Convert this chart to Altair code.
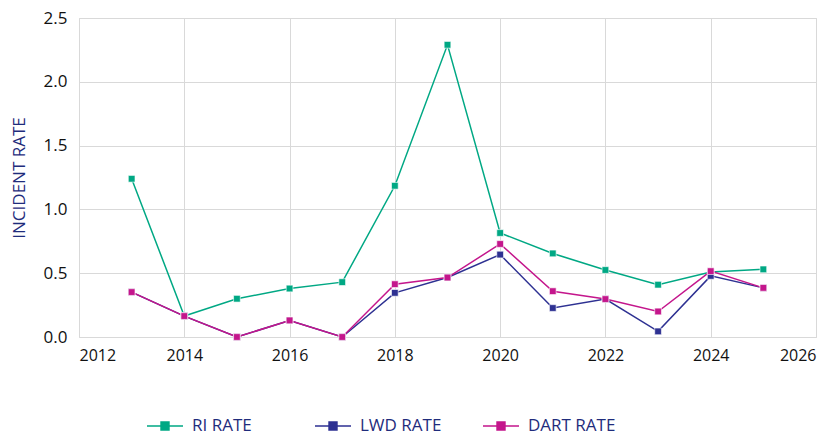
import altair as alt
import pandas as pd

years = [2013, 2014, 2015, 2016, 2017, 2018, 2019, 2020, 2021, 2022, 2023, 2024, 2025]
ri_rate = [1.24, 0.164, 0.30, 0.38, 0.43, 1.185, 2.29, 0.815, 0.655, 0.525, 0.41, 0.51, 0.53]
lwd_rate = [0.352, 0.164, 0.0, 0.13, 0.0, 0.346, 0.466, 0.646, 0.227, 0.297, 0.044, 0.479, 0.385]
dart_rate = [0.352, 0.164, 0.0, 0.13, 0.0, 0.414, 0.466, 0.729, 0.359, 0.297, 0.20, 0.516, 0.385]

series_names = ["RI RATE", "LWD RATE", "DART RATE"]
series_colors = ["#00A884", "#2E3192", "#C4168C"]

rows = []
for name, vals in zip(series_names, [ri_rate, lwd_rate, dart_rate]):
    for y, v in zip(years, vals):
        rows.append({"year": y, "rate": v, "series": name})
df = pd.DataFrame(rows)

FONT = "Open Sans"

x = alt.X("year:Q", scale=alt.Scale(domain=[2012, 2026], nice=False),
          axis=alt.Axis(values=list(range(2012, 2027, 2)), format="d", title=None,
                        grid=True, gridColor="#d9d9d9", ticks=False, domain=False,
                        labelFontSize=16, labelColor="#111111", labelPadding=10,
                        labelFont=FONT))
y = alt.Y("rate:Q", scale=alt.Scale(domain=[0, 2.5], nice=False),
          axis=alt.Axis(values=[0, 0.5, 1.0, 1.5, 2.0, 2.5], format=".1f",
                        title="INCIDENT RATE", titleColor="#1F2C7C", titleFontSize=17,
                        titleFontWeight="normal", titleFont=FONT, titlePadding=15,
                        grid=True, gridColor="#d9d9d9", ticks=False, domain=False,
                        labelFontSize=17, labelColor="#111111", labelPadding=12,
                        labelFont=FONT))
color = alt.Color("series:N", scale=alt.Scale(domain=series_names, range=series_colors),
                  sort=series_names,
                  legend=alt.Legend(title=None, orient="none", legendX=67, legendY=389,
                                    direction="horizontal", columns=3, gridAlign="all",
                                    columnPadding=32,
                                    symbolType="M-1,0H1M-0.22,-0.22H0.22V0.22H-0.22Z",
                                    symbolSize=1296, symbolStrokeWidth=1.5,
                                    labelFontSize=17, labelColor="#1F2C7C", labelFont=FONT,
                                    labelOffset=8))

base = alt.Chart(df)
lines = base.mark_line(strokeWidth=1.5).encode(x=x, y=y, color=color,
                                                 order=alt.Order("year:Q"))
points = base.mark_point(shape="square", filled=True, size=45, opacity=1,
                         stroke="white", strokeWidth=0.6).encode(x=x, y=y, color=color)

chart = (lines + points).properties(
    width=737, height=319,
    padding={"left": 2, "top": 1, "right": 5, "bottom": 5},
).configure_view(stroke="#d9d9d9")

chart.save("out.html", embed_options={"renderer": "svg", "actions": False})
